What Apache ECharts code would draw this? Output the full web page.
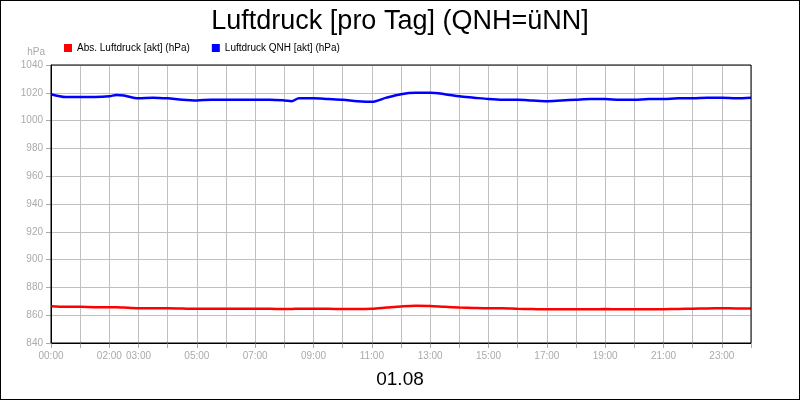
<!DOCTYPE html>
<html><head><meta charset="utf-8">
<script src="https://cdn.jsdelivr.net/npm/echarts@6/dist/echarts.min.js"></script>
<style>html,body{margin:0;padding:0;background:#fff}#c{width:798px;height:398px;border:1px solid #000}</style>
</head><body><div id="c"></div>
<script>
// Stunden (0..24) in halbstündigen Schritten
var hours = [0,0.5,1,1.5,2,2.25,2.5,3,3.5,4,4.5,5,5.5,6,6.5,7,7.5,8,8.25,8.5,9,9.5,10,10.5,11,11.5,12,12.5,13,13.5,14,14.5,15,15.5,16,16.5,17,17.5,18,18.5,19,19.5,20,20.5,21,21.5,22,22.5,23,23.5,24];
var qnh = [1019,1017,1017,1017,1017.5,1018.5,1018,1016,1016.5,1016,1015,1014.5,1015,1015,1015,1015,1015,1014.5,1014,1016,1016,1015.5,1015,1014,1013.5,1016.5,1019,1020,1020,1019,1017.5,1016.5,1015.5,1015,1015,1014.5,1014,1014.5,1015,1015.5,1015.5,1015,1015,1015.5,1015.5,1016,1016,1016.5,1016.5,1016,1016.5];
var abs = [866.5,866,866,865.8,865.8,865.8,865.5,865,865,865,864.8,864.6,864.6,864.6,864.6,864.6,864.6,864.5,864.5,864.6,864.7,864.6,864.5,864.5,864.7,865.5,866.3,866.8,866.6,866,865.5,865.2,865,865,864.6,864.4,864.2,864.2,864.2,864.3,864.4,864.3,864.2,864.2,864.3,864.5,864.7,864.9,865,864.9,864.9];
var labeledHours = [0,2,3,5,7,9,11,13,15,17,19,21,23];

function pad(h){return (h<10?'0':'')+h+':00';}
var chart = echarts.init(document.getElementById('c'));
chart.setOption({
  animation:false,
  textStyle:{fontFamily:'Liberation Sans, Arial'},
  title:[{text:'Luftdruck [pro Tag] (QNH=üNN]',left:'center',top:2,textStyle:{fontSize:27,fontWeight:'normal',color:'#000'}},
         {text:'01.08',left:'center',top:364,textStyle:{fontSize:19,fontWeight:'normal',color:'#000'}}],
  legend:{left:58,top:37,itemWidth:8,itemHeight:8,itemGap:22,icon:'rect',textStyle:{fontSize:10,color:'#000'},
    data:['Abs. Luftdruck [akt] (hPa)','Luftdruck QNH [akt] (hPa)']},
  grid:{left:50,right:48,top:64,bottom:56},
  xAxis:{type:'value',min:0,max:24,interval:1,
    axisLine:{lineStyle:{color:'#000'}},axisTick:{lineStyle:{color:'#aaa'}},
    splitLine:{show:true,lineStyle:{color:'#c0c0c0'}},
    axisLabel:{color:'#aaa',fontSize:10,formatter:function(v){return labeledHours.indexOf(v)>=0?pad(v):'';}}},
  yAxis:{type:'value',min:840,max:1040,interval:20,name:'hPa',nameGap:8,
    nameTextStyle:{color:'#aaa',fontSize:10,align:'right',padding:[0,6,0,0]},
    axisLine:{show:true,lineStyle:{color:'#000'}},axisTick:{show:true,lineStyle:{color:'#aaa'}},
    splitLine:{lineStyle:{color:'#c0c0c0'}},
    axisLabel:{color:'#aaa',fontSize:10,formatter:function(v){return String(v);}}},
  graphic:[{type:'rect',shape:{x:50,y:64,width:700,height:278},style:{fill:'none',stroke:'#000',lineWidth:1},z:100}],
  series:[
    {name:'Abs. Luftdruck [akt] (hPa)',type:'line',showSymbol:false,smooth:0.3,color:'#ff0000',lineStyle:{width:2.5},
     data:hours.map(function(h,i){return [h,abs[i]];})},
    {name:'Luftdruck QNH [akt] (hPa)',type:'line',showSymbol:false,smooth:0.3,color:'#0000ff',lineStyle:{width:2.5},
     data:hours.map(function(h,i){return [h,qnh[i]];})}
  ]
});
</script></body></html>
